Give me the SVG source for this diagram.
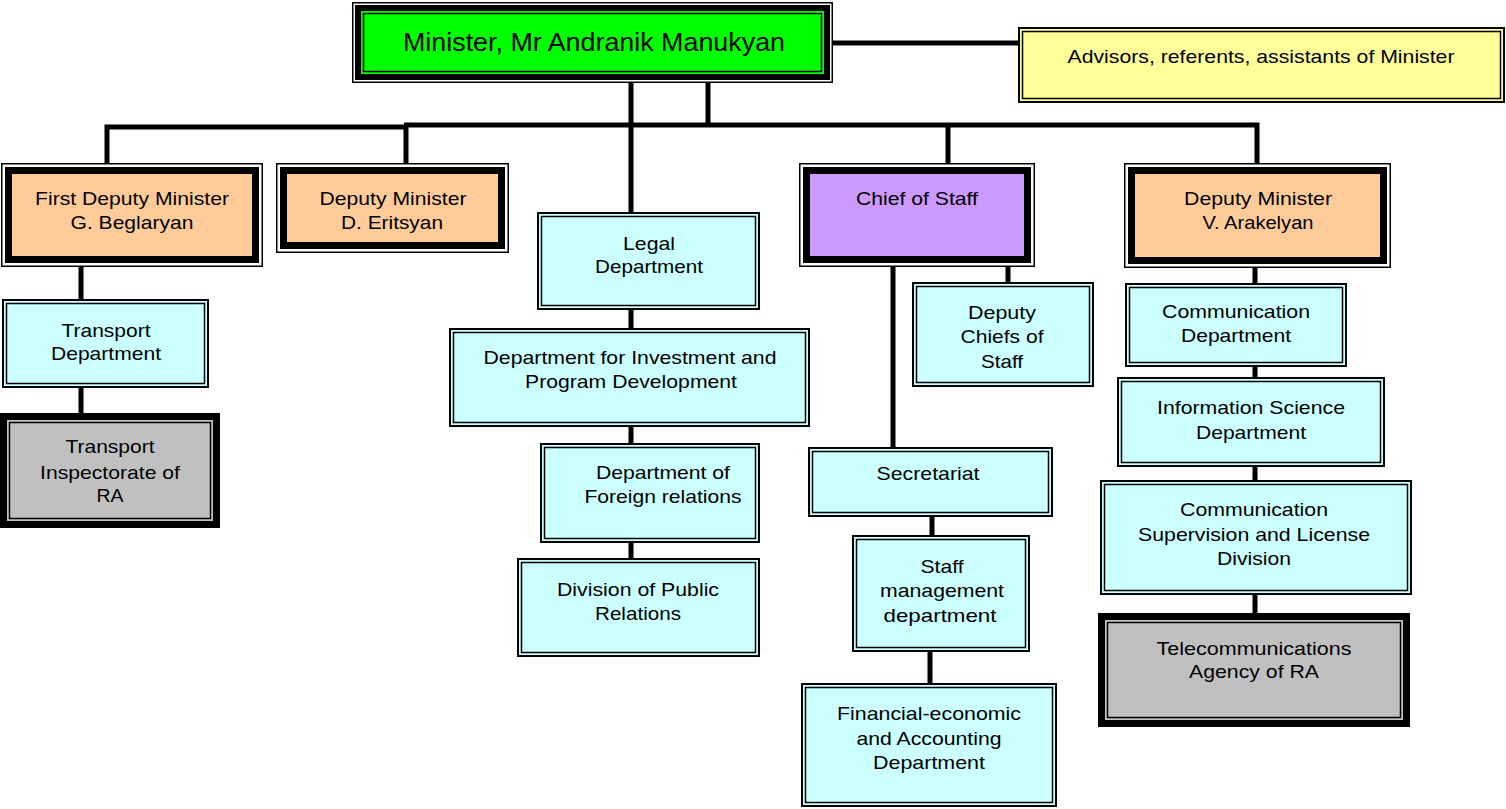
<svg xmlns="http://www.w3.org/2000/svg" width="1506" height="809" viewBox="0 0 1506 809">
<style>
.bg{fill:#fff}
.t{font-family:"Liberation Sans",Arial,sans-serif;font-size:19px;fill:#000;text-anchor:middle}
.tb{font-family:"Liberation Sans",Arial,sans-serif;font-size:26px;fill:#000;text-anchor:middle}
.o1{stroke:#000;stroke-width:2}
.o2{stroke:#000;stroke-width:1.5}
.thin{stroke:#000;stroke-width:1.5;fill:#fff}
.thick{stroke:#000;stroke-width:7}
.cy{fill:#ccffff}
.ye{fill:#ffff99}
.or{fill:#ffcc99}
.pu{fill:#cc99ff}
.gr{fill:#c0c0c0}
.gn{fill:#00ff00}
.c{stroke:#000;stroke-width:5;fill:none}
</style>
<rect class="bg" x="0" y="0" width="1506" height="809"/>
<g id="connectors">
<path class="c" d="M833 43H1018"/>
<path class="c" d="M631 83V212"/>
<path class="c" d="M708 83V125"/>
<path class="c" d="M107 163V127H406"/>
<path class="c" d="M406 163V125"/>
<path class="c" d="M404 125H1257V163"/>
<path class="c" d="M948 125V163"/>
<path class="c" d="M631 310V328M631 427V443M631 543V558"/>
<path class="c" d="M81 267V299M81 388V413"/>
<path class="c" d="M893 267V447M1008 267V282"/>
<path class="c" d="M932 517V535M930 652V683"/>
<path class="c" d="M1255 268V283M1255 367V377M1255 467V480M1255 595V613"/>
</g>
<g id="minister">
<rect class="thin" x="352.75" y="2.75" width="479.5" height="79.5"/>
<rect class="gn" x="358" y="8" width="469" height="69" stroke="#000" stroke-width="6"/>
<rect class="gn o2" x="363.5" y="13.5" width="458" height="58"/>
<text class="tb" x="594" y="51" textLength="382" lengthAdjust="spacingAndGlyphs">Minister, Mr Andranik Manukyan</text>
</g>
<g id="advisors">
<rect class="ye o1" x="1019" y="28" width="485" height="74"/>
<rect class="ye o2" x="1022.5" y="31.5" width="478" height="67"/>
<text class="t" x="1261" y="63" textLength="387" lengthAdjust="spacingAndGlyphs">Advisors, referents, assistants of Minister</text>
</g>
<g id="first-deputy">
<rect class="thin" x="1.75" y="163.75" width="260.5" height="102.5"/>
<rect class="or thick" x="8.5" y="170.5" width="247" height="89"/>
<text class="t" x="132" y="205" textLength="194" lengthAdjust="spacingAndGlyphs">First Deputy Minister</text>
<text class="t" x="132" y="229" textLength="123" lengthAdjust="spacingAndGlyphs">G. Beglaryan</text>
</g>
<g id="deputy-eritsyan">
<rect class="thin" x="276.75" y="163.75" width="231.5" height="88.5"/>
<rect class="or thick" x="283.5" y="170.5" width="218" height="75"/>
<text class="t" x="393" y="205" textLength="147" lengthAdjust="spacingAndGlyphs">Deputy Minister</text>
<text class="t" x="392" y="229" textLength="102" lengthAdjust="spacingAndGlyphs">D. Eritsyan</text>
</g>
<g id="chief-of-staff">
<rect class="thin" x="799.75" y="163.75" width="234.5" height="102.5"/>
<rect class="pu thick" x="806.5" y="170.5" width="221" height="89"/>
<text class="t" x="917" y="205" textLength="122" lengthAdjust="spacingAndGlyphs">Chief of Staff</text>
</g>
<g id="deputy-arakelyan">
<rect class="thin" x="1124.75" y="163.75" width="265.5" height="103.5"/>
<rect class="or thick" x="1131.5" y="170.5" width="252" height="90"/>
<text class="t" x="1258" y="205" textLength="148" lengthAdjust="spacingAndGlyphs">Deputy Minister</text>
<text class="t" x="1258" y="229" textLength="111" lengthAdjust="spacingAndGlyphs">V. Arakelyan</text>
</g>
<g id="legal">
<rect class="cy o1" x="538" y="213" width="221" height="96"/>
<rect class="cy o2" x="541.5" y="216.5" width="214" height="89"/>
<text class="t" x="649" y="250" textLength="52" lengthAdjust="spacingAndGlyphs">Legal</text>
<text class="t" x="649" y="273" textLength="108" lengthAdjust="spacingAndGlyphs">Department</text>
</g>
<g id="investment">
<rect class="cy o1" x="450" y="329" width="359" height="97"/>
<rect class="cy o2" x="453.5" y="332.5" width="352" height="90"/>
<text class="t" x="630" y="364" textLength="293" lengthAdjust="spacingAndGlyphs">Department for Investment and</text>
<text class="t" x="631" y="388" textLength="212" lengthAdjust="spacingAndGlyphs">Program Development</text>
</g>
<g id="foreign">
<rect class="cy o1" x="541" y="444" width="218" height="98"/>
<rect class="cy o2" x="544.5" y="447.5" width="211" height="91"/>
<text class="t" x="663" y="479" textLength="134" lengthAdjust="spacingAndGlyphs">Department of</text>
<text class="t" x="663" y="503" textLength="157" lengthAdjust="spacingAndGlyphs">Foreign relations</text>
</g>
<g id="public-relations">
<rect class="cy o1" x="518" y="559" width="241" height="97"/>
<rect class="cy o2" x="521.5" y="562.5" width="234" height="90"/>
<text class="t" x="638" y="596" textLength="162" lengthAdjust="spacingAndGlyphs">Division of Public</text>
<text class="t" x="638" y="620" textLength="86" lengthAdjust="spacingAndGlyphs">Relations</text>
</g>
<g id="transport-dept">
<rect class="cy o1" x="3" y="300" width="205" height="87"/>
<rect class="cy o2" x="6.5" y="303.5" width="198" height="80"/>
<text class="t" x="106" y="337" textLength="89" lengthAdjust="spacingAndGlyphs">Transport</text>
<text class="t" x="106" y="360" textLength="110" lengthAdjust="spacingAndGlyphs">Department</text>
</g>
<g id="transport-inspectorate">
<rect class="gr thick" x="3.5" y="416.5" width="213" height="108"/>
<rect class="gr o2" x="9.5" y="422.5" width="201" height="96"/>
<text class="t" x="110" y="453" textLength="89" lengthAdjust="spacingAndGlyphs">Transport</text>
<text class="t" x="110" y="479" textLength="140" lengthAdjust="spacingAndGlyphs">Inspectorate of</text>
<text class="t" x="110" y="502" textLength="27" lengthAdjust="spacingAndGlyphs">RA</text>
</g>
<g id="deputy-chiefs">
<rect class="cy o1" x="913" y="283" width="180" height="103"/>
<rect class="cy o2" x="916.5" y="286.5" width="173" height="96"/>
<text class="t" x="1002" y="319" textLength="68" lengthAdjust="spacingAndGlyphs">Deputy</text>
<text class="t" x="1002" y="343" textLength="83" lengthAdjust="spacingAndGlyphs">Chiefs of</text>
<text class="t" x="1002" y="368" textLength="42" lengthAdjust="spacingAndGlyphs">Staff</text>
</g>
<g id="secretariat">
<rect class="cy o1" x="809" y="448" width="243" height="68"/>
<rect class="cy o2" x="812.5" y="451.5" width="236" height="61"/>
<text class="t" x="928" y="480" textLength="103" lengthAdjust="spacingAndGlyphs">Secretariat</text>
</g>
<g id="staff-management">
<rect class="cy o1" x="853" y="536" width="176" height="115"/>
<rect class="cy o2" x="856.5" y="539.5" width="169" height="108"/>
<text class="t" x="942" y="573" textLength="43" lengthAdjust="spacingAndGlyphs">Staff</text>
<text class="t" x="942" y="597" textLength="124" lengthAdjust="spacingAndGlyphs">management</text>
<text class="t" x="940" y="622" textLength="113" lengthAdjust="spacingAndGlyphs">department</text>
</g>
<g id="financial">
<rect class="cy o1" x="802" y="684" width="254" height="122"/>
<rect class="cy o2" x="805.5" y="687.5" width="247" height="115"/>
<text class="t" x="929" y="720" textLength="184" lengthAdjust="spacingAndGlyphs">Financial-economic</text>
<text class="t" x="929" y="745" textLength="145" lengthAdjust="spacingAndGlyphs">and Accounting</text>
<text class="t" x="929" y="769" textLength="112" lengthAdjust="spacingAndGlyphs">Department</text>
</g>
<g id="communication-dept">
<rect class="cy o1" x="1126" y="284" width="220" height="82"/>
<rect class="cy o2" x="1129.5" y="287.5" width="213" height="75"/>
<text class="t" x="1236" y="318" textLength="148" lengthAdjust="spacingAndGlyphs">Communication</text>
<text class="t" x="1236" y="342" textLength="110" lengthAdjust="spacingAndGlyphs">Department</text>
</g>
<g id="information-science">
<rect class="cy o1" x="1118" y="378" width="266" height="88"/>
<rect class="cy o2" x="1121.5" y="381.5" width="259" height="81"/>
<text class="t" x="1251" y="414" textLength="188" lengthAdjust="spacingAndGlyphs">Information Science</text>
<text class="t" x="1251" y="439" textLength="110" lengthAdjust="spacingAndGlyphs">Department</text>
</g>
<g id="supervision">
<rect class="cy o1" x="1101" y="481" width="310" height="113"/>
<rect class="cy o2" x="1104.5" y="484.5" width="303" height="106"/>
<text class="t" x="1254" y="516" textLength="148" lengthAdjust="spacingAndGlyphs">Communication</text>
<text class="t" x="1254" y="541" textLength="232" lengthAdjust="spacingAndGlyphs">Supervision and License</text>
<text class="t" x="1254" y="565" textLength="74" lengthAdjust="spacingAndGlyphs">Division</text>
</g>
<g id="telecom-agency">
<rect class="gr thick" x="1101.5" y="616.5" width="305" height="107"/>
<rect class="gr o2" x="1107.5" y="622.5" width="293" height="95"/>
<text class="t" x="1254" y="655" textLength="195" lengthAdjust="spacingAndGlyphs">Telecommunications</text>
<text class="t" x="1254" y="678" textLength="130" lengthAdjust="spacingAndGlyphs">Agency of RA</text>
</g>
</svg>
